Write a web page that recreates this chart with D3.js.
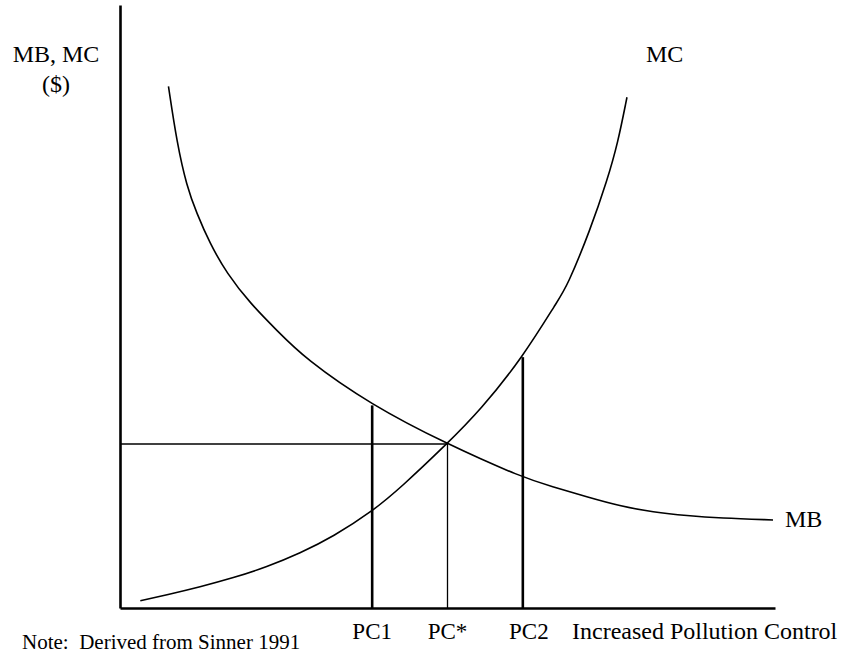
<!DOCTYPE html>
<html>
<head>
  <meta charset="utf-8">
  <title>MB and MC of Pollution Control</title>
  <script src="https://d3js.org/d3.v7.min.js"></script>
  <style>
    body { margin: 0; background: #fff; }
    text { font-family: "Liberation Serif", "DejaVu Serif", serif; fill: #000; }
  </style>
</head>
<body>
<div id="chart"></div>
<script>

// Marginal benefit curve (falls as control increases)
const mbX = [7.4, 8.7, 10.2, 11.7, 13.7, 16.3, 19.9, 23.9, 28.2, 38.3, 49.9, 61.5, 66.1, 71.3, 76.3, 81.4, 86.6, 91.6, 99.7];
const mbY = [86.5, 77.1, 69.9, 65.5, 60.5, 55.5, 50.5, 46.1, 41.4, 33.7, 27.2, 21.6, 20.1, 18.4, 16.9, 15.9, 15.3, 14.9, 14.6];

// Marginal cost curve (rises as control increases)
const mcX = [3.1, 7.2, 12.2, 17.3, 22.4, 27.5, 32.5, 38.6, 42.8, 49.9, 55.0, 61.5, 66.9, 68.2, 71.8, 74.4, 76.0, 77.4];
const mcY = [1.2, 2.2, 3.5, 5.0, 6.8, 9.1, 11.8, 16.1, 19.9, 27.2, 32.8, 41.6, 51.1, 53.2, 62.7, 71.0, 77.1, 84.7];

// Pollution control levels and their tops
const levels = ["PC1", "PC*", "PC2"];
const levelX = [38.5, 50.0, 61.5];
const levelTop = [33.6, 27.2, 41.6];
const equilibriumY = 27.2;

const width = 848, height = 660;

const svg = d3.select("#chart")
  .append("svg")
    .attr("width", width)
    .attr("height", height);

// Scales
const x = d3.scaleLinear().domain([0, 100]).range([120, 775]);
const y = d3.scaleLinear().domain([0, 100]).range([608, 5]);

// Axes, drawn as bare lines with no ticks
svg.append("g")
  .attr("transform", `translate(0, ${y(0)})`)
  .call(d3.axisBottom(x).tickValues([]).tickSizeOuter(0))
  .select(".domain")
    .attr("stroke", "#000")
    .attr("stroke-width", 2.6);

svg.append("g")
  .attr("transform", `translate(${x(0)}, 0)`)
  .call(d3.axisLeft(y).tickValues([]).tickSizeOuter(0))
  .select(".domain")
    .attr("stroke", "#000")
    .attr("stroke-width", 2.6);

const line = d3.line()
  .x(d => x(d[0]))
  .y(d => y(d[1]))
  .curve(d3.curveBasis);

// Curves
svg.append("path")
  .datum(d3.zip(mbX, mbY))
  .attr("fill", "none")
  .attr("stroke", "#000")
  .attr("stroke-width", 1.6)
  .attr("d", line);

svg.append("path")
  .datum(d3.zip(mcX, mcY))
  .attr("fill", "none")
  .attr("stroke", "#000")
  .attr("stroke-width", 1.6)
  .attr("d", line);

// Horizontal line to the equilibrium
svg.append("line")
  .attr("x1", x(0)).attr("x2", x(levelX[1]))
  .attr("y1", y(equilibriumY)).attr("y2", y(equilibriumY))
  .attr("stroke", "#000")
  .attr("stroke-width", 1.6);

// Vertical drop lines
svg.selectAll(".drop")
  .data(levels)
  .enter()
  .append("line")
    .attr("class", "drop")
    .attr("x1", (d, i) => x(levelX[i]))
    .attr("x2", (d, i) => x(levelX[i]))
    .attr("y1", (d, i) => y(levelTop[i]))
    .attr("y2", y(0))
    .attr("stroke", "#000")
    .attr("stroke-width", d => d === "PC*" ? 1.3 : 2.6);

// Labels under the axis
const labelShift = [0, 0, 6];
svg.selectAll(".level")
  .data(levels)
  .enter()
  .append("text")
    .attr("class", "level")
    .attr("text-anchor", "middle")
    .attr("font-size", 23)
    .attr("x", (d, i) => x(levelX[i]) + labelShift[i])
    .attr("y", 639)
    .text(d => d);

svg.append("text")
  .attr("font-size", 24)
  .attr("x", 572)
  .attr("y", 639)
  .text("Increased Pollution Control");

// Curve labels
svg.append("text")
  .attr("font-size", 24)
  .attr("x", 646)
  .attr("y", 62)
  .text("MC");

svg.append("text")
  .attr("font-size", 24)
  .attr("x", 785)
  .attr("y", 527)
  .text("MB");

// Y axis title
svg.append("text")
  .attr("text-anchor", "middle")
  .attr("font-size", 24)
  .attr("x", 56)
  .attr("y", 62)
  .text("MB, MC");

svg.append("text")
  .attr("text-anchor", "middle")
  .attr("font-size", 24)
  .attr("x", 56)
  .attr("y", 92)
  .text("($)");

// Source note
svg.append("text")
  .attr("font-size", 21)
  .attr("x", 22)
  .attr("y", 649)
  .text("Note:  Derived from Sinner 1991")
  .style("white-space", "pre");

</script>
</body>
</html>
